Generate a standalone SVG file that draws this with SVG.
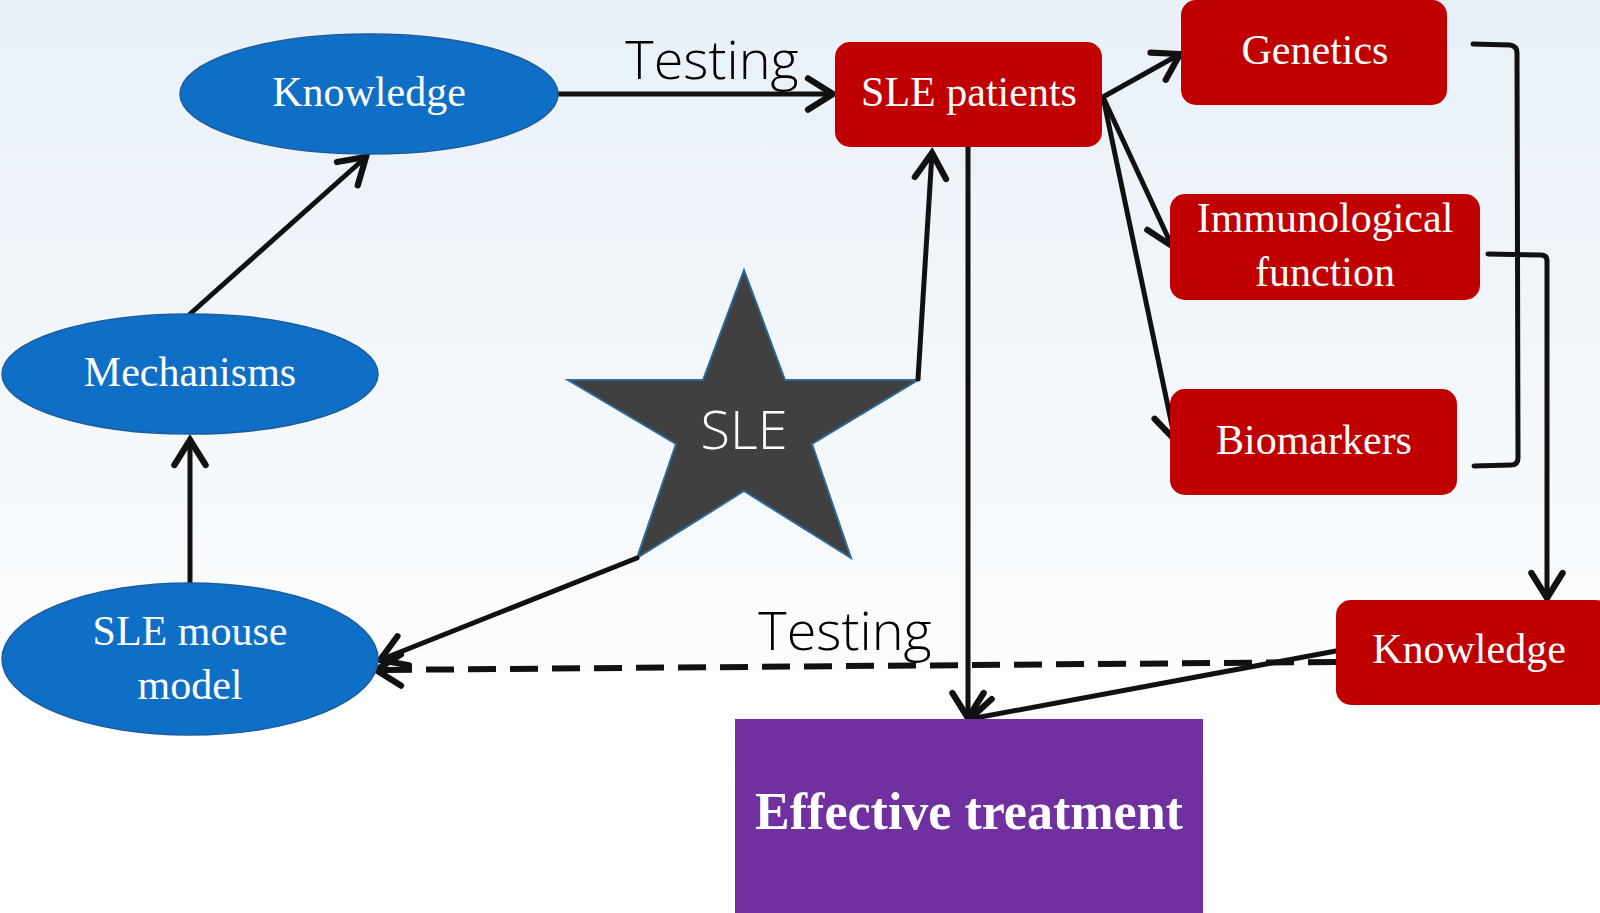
<svg xmlns="http://www.w3.org/2000/svg" width="1600" height="913" viewBox="0 0 1600 913">
<defs>
<linearGradient id="bg" x1="0" y1="0" x2="0" y2="1">
<stop offset="0" stop-color="#e8f0f7"/>
<stop offset="0.88" stop-color="#ffffff"/>
<stop offset="1" stop-color="#ffffff"/>
</linearGradient>
<marker id="arr" markerUnits="userSpaceOnUse" markerWidth="40" markerHeight="40" viewBox="-24 -16 28 32" refX="0" refY="0" orient="auto" overflow="visible">
<path d="M-20,-12.5 L0,0 L-20,12.5" fill="none" stroke="#111" stroke-width="5" stroke-linecap="round" stroke-linejoin="miter"/>
</marker>
<style>
.ell{fill:#0f6fc6;stroke:#1d5c9c;stroke-width:1.5}
.red{fill:#c00000}
.lbl{font-family:"Liberation Serif","Times New Roman",serif;font-size:42px;fill:#ffffff;text-anchor:middle}
.thin{font-family:"Open Sans","Noto Sans","Liberation Sans",sans-serif;font-weight:300;text-anchor:middle}
.ln{fill:none;stroke:#111;stroke-width:5;stroke-linecap:round;stroke-linejoin:round}
</style>
</defs>
<rect x="0" y="0" width="1600" height="913" fill="url(#bg)"/>

<g id="star">
<polygon points="744,270 785,380 918,380 812,444 851,558 744,491 637,558 676,444 568,380 703,380" fill="#404040" stroke="#2b6a9a" stroke-width="2"/>
<text x="744" y="449" class="thin" font-size="54" fill="#ffffff">SLE</text>
</g>

<g id="connectors">
<line class="ln" x1="558" y1="94" x2="833" y2="94" marker-end="url(#arr)"/>
<line class="ln" x1="190" y1="314" x2="366" y2="157" marker-end="url(#arr)"/>
<line class="ln" x1="190" y1="585" x2="190" y2="440" marker-end="url(#arr)"/>
<line class="ln" x1="637" y1="558" x2="380" y2="660" marker-end="url(#arr)"/>
<polyline class="ln" points="918,379 932,153" marker-end="url(#arr)"/>
<line class="ln" x1="1103" y1="97" x2="1180" y2="54" marker-end="url(#arr)"/>
<line class="ln" x1="1103" y1="97" x2="1172" y2="246" marker-end="url(#arr)"/>
<line class="ln" x1="1103" y1="97" x2="1175" y2="440" marker-end="url(#arr)"/>
<line class="ln" x1="968" y1="147" x2="968" y2="718" marker-end="url(#arr)"/>
<line class="ln" x1="1336" y1="651" x2="970" y2="719" marker-end="url(#arr)"/>
<line x1="1336" y1="662" x2="380" y2="670" fill="none" stroke="#111" stroke-width="6" stroke-dasharray="28,14"/>
<path d="M385,670 L376,670" class="ln" marker-end="url(#arr)"/>
<path d="M1473,44 L1510,45 Q1517,46 1517,53 L1518,458 Q1518,465 1511,465 L1474,466" class="ln" stroke-width="5.5" stroke-linecap="butt"/>
<path d="M1488,254 L1541,255 Q1547,255 1547,261 L1547,598" class="ln" stroke-width="5.5" stroke-linecap="butt" marker-end="url(#arr)"/>
</g>

<g id="knowledge-top">
<ellipse class="ell" cx="369" cy="94" rx="189" ry="60"/>
<text class="lbl" x="369" y="106">Knowledge</text>
</g>
<g id="mechanisms">
<ellipse class="ell" cx="190" cy="374" rx="188" ry="60"/>
<text class="lbl" x="190" y="386">Mechanisms</text>
</g>
<g id="mouse-model">
<ellipse class="ell" cx="190" cy="659" rx="188" ry="76"/>
<text class="lbl" x="190" y="645">SLE mouse</text>
<text class="lbl" x="190" y="699">model</text>
</g>
<g id="sle-patients">
<rect class="red" x="835" y="42" width="267" height="105" rx="15"/>
<text class="lbl" x="969" y="106">SLE patients</text>
</g>
<g id="genetics">
<rect class="red" x="1181" y="0" width="266" height="105" rx="15"/>
<text class="lbl" x="1315" y="64">Genetics</text>
</g>
<g id="immunological">
<rect class="red" x="1170" y="194" width="310" height="106" rx="15"/>
<text class="lbl" x="1325" y="232">Immunological</text>
<text class="lbl" x="1325" y="286">function</text>
</g>
<g id="biomarkers">
<rect class="red" x="1170" y="389" width="287" height="106" rx="15"/>
<text class="lbl" x="1314" y="454">Biomarkers</text>
</g>
<g id="knowledge-red">
<rect class="red" x="1336" y="600" width="275" height="105" rx="15"/>
<text class="lbl" x="1469" y="663">Knowledge</text>
</g>
<g id="effective-treatment">
<rect x="735" y="719" width="468" height="200" fill="#7030a0"/>
<text x="969" y="829" font-family="'Liberation Serif','Times New Roman',serif" font-size="52" font-weight="bold" fill="#ffffff" text-anchor="middle">Effective treatment</text>
</g>

<g id="labels">
<text class="thin" x="712" y="79" font-size="54" fill="#000000">Testing</text>
<text class="thin" x="845" y="650" font-size="54" fill="#000000">Testing</text>
</g>
</svg>
